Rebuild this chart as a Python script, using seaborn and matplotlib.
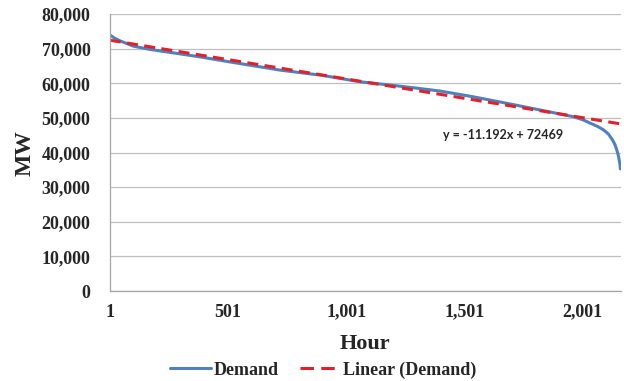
import matplotlib
matplotlib.use('Agg')
import matplotlib.pyplot as plt
from matplotlib.lines import Line2D
import seaborn as sns
import pandas as pd

# Sorted hourly demand (load duration curve)
hours = [1, 20, 43, 100, 170, 240, 381, 522, 721, 900, 1060, 1187, 1300,
         1399, 1539, 1682, 1823, 1963, 2000, 2035, 2065, 2090, 2110, 2127,
         2137, 2145, 2151, 2155, 2158, 2160]
demand = [74000, 73100, 72300, 70750, 69800, 69100, 67660, 66040, 63820,
          62300, 60450, 59500, 58600, 57760, 56100, 54200, 52270, 50340,
          49500, 48430, 47500, 46500, 45300, 43600, 42300, 40700, 39200,
          37800, 36600, 35300]

# Linear trend line end points (y = -11.192x + 72469)
trend_hours = [1, 2160]
trend_mw = [72458, 48294]

x_ticks = [1, 501, 1001, 1501, 2001]
x_labels = ['1', '501', '1,001', '1,501', '2,001']
y_ticks = [0, 10000, 20000, 30000, 40000, 50000, 60000, 70000, 80000]
y_labels = ['0', '10,000', '20,000', '30,000', '40,000', '50,000',
            '60,000', '70,000', '80,000']

df = pd.DataFrame({'Hour': hours, 'MW': demand})
trend = pd.DataFrame({'Hour': trend_hours, 'MW': trend_mw})

sns.set_style('white')
plt.rcParams['font.family'] = ['Liberation Serif', 'DejaVu Serif']

blue = '#4F81BD'
red = '#E3202A'

fig, ax = plt.subplots(figsize=(6.24, 3.81), dpi=100)
fig.subplots_adjust(left=0.176, right=0.995, top=0.963, bottom=0.236)

sns.lineplot(data=df, x='Hour', y='MW', ax=ax, color=blue,
             linewidth=2.2, sort=False)
sns.lineplot(data=trend, x='Hour', y='MW', ax=ax, color=red,
             linewidth=2.2, linestyle=(0, (3.6, 2.1)))

ax.set_xlim(1, 2162)
ax.set_ylim(0, 80000)
ax.set_xticks(x_ticks)
ax.set_xticklabels(x_labels, fontsize=13, fontweight='bold')
ax.set_yticks(y_ticks)
ax.set_yticklabels(y_labels, fontsize=13, fontweight='bold')
ax.tick_params(axis='both', direction='out', length=3, width=0.8,
               color='#A6A6A6')
ax.tick_params(axis='y', pad=11)
ax.tick_params(axis='x', pad=6)
ax.yaxis.grid(True, color='#BFBFBF', linewidth=0.9)
ax.xaxis.grid(False)

for side in ['top', 'right']:
    ax.spines[side].set_visible(False)
for side in ['left', 'bottom']:
    ax.spines[side].set_color('#A6A6A6')
    ax.spines[side].set_linewidth(0.9)

ax.set_xlabel('Hour', fontsize=16, fontweight='bold')
ax.xaxis.set_label_coords(0.5, -0.191)
ax.xaxis.label.set_va('center')
ax.set_ylabel('MW', fontsize=17, fontweight='bold')
ax.yaxis.set_label_coords(-0.166, 0.5)
ax.yaxis.label.set_va('center')

ax.text(1665, 45000, 'y = -11.192x + 72469', ha='center', va='center',
        fontsize=9, fontweight='bold', family=['Lato', 'DejaVu Sans'])

# legend samples: the red one ends on a gap like the Excel original
handles = [Line2D([], [], color=blue, linewidth=2.2),
           Line2D([], [], color=red, linewidth=2.2,
                  linestyle=(0, (4.4, 2.4)))]
fig.legend(handles, ['Demand', 'Linear (Demand)'], loc='center',
           bbox_to_anchor=(0.518, 0.029), ncol=2, frameon=False,
           handlelength=2.3, handletextpad=0.1, columnspacing=1.2,
           borderpad=0, prop={'weight': 'bold', 'size': 13})

fig.savefig('out.png', dpi=100)
